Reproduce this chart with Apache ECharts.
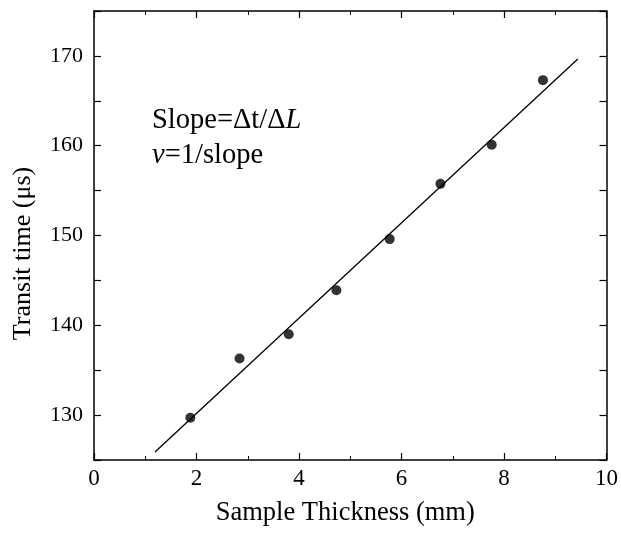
<!DOCTYPE html>
<html>
<head>
<meta charset="utf-8">
<script src="https://cdn.jsdelivr.net/npm/echarts@6/dist/echarts.min.js"></script>
<style>html,body{margin:0;padding:0;background:#fff;}#c{width:621px;height:537px;}</style>
</head>
<body>
<div id="c"></div>
<script>
var thickness = [1.88, 2.84, 3.80, 4.73, 5.77, 6.76, 7.76, 8.76];
var transitTime = [129.7, 136.3, 139.0, 143.9, 149.6, 155.75, 160.1, 167.3];
var fitX = [1.19, 9.44];
var fitY = [125.9, 169.65];
var xTicks = [0, 2, 4, 6, 8, 10];
var yTicks = [130, 140, 150, 160, 170];

var font = '"Liberation Serif","Times New Roman",serif';
var chart = echarts.init(document.getElementById('c'));
function axisCommon(show) {
  return {
    axisLine: {show: true, onZero: false, lineStyle: {color: '#000', width: 1.5}},
    axisTick: {show: true, inside: true, length: 7, lineStyle: {color: '#000', width: 1.2}},
    minorTick: {show: true, splitNumber: 2, length: 4, lineStyle: {color: '#000', width: 1}},
    splitLine: {show: false},
    axisLabel: {show: show, color: '#000', fontFamily: font, fontSize: 22}
  };
}
var scatterData = thickness.map(function (x, i) { return [x, transitTime[i]]; });
var fitData = fitX.map(function (x, i) { return [x, fitY[i]]; });

var option = {
  backgroundColor: '#fff',
  animation: false,
  grid: {left: 94, right: 14, top: 11, bottom: 77},
  xAxis: [
    Object.assign(axisCommon(true), {
      type: 'value', min: 0, max: 10, interval: 2, position: 'bottom',
      name: 'Sample Thickness (mm)', nameLocation: 'middle', nameGap: 40,
      nameTextStyle: {color: '#000', fontFamily: font, fontSize: 26.5, padding: [0, 10, 0, 0]},
      axisLabel: {show: true, color: '#000', fontFamily: font, fontSize: 23, margin: 7,
        formatter: function (v) { return xTicks.indexOf(v) >= 0 ? String(v) : ''; }}
    }),
    Object.assign(axisCommon(false), {type: 'value', min: 0, max: 10, interval: 2, position: 'top'})
  ],
  yAxis: [
    Object.assign(axisCommon(true), {
      type: 'value', min: 125, max: 175, interval: 5, position: 'left',
      name: 'Transit time (\u03bcs)', nameLocation: 'middle', nameGap: 58,
      nameTextStyle: {color: '#000', fontFamily: font, fontSize: 26, padding: [0, 36, 0, 0]},
      minorTick: {show: false},
      axisLabel: {show: true, color: '#000', fontFamily: font, fontSize: 22, margin: 11,
        formatter: function (v) { return yTicks.indexOf(v) >= 0 ? String(v) : ''; }}
    }),
    Object.assign(axisCommon(false), {type: 'value', min: 125, max: 175, interval: 5, position: 'right', minorTick: {show: false}})
  ],
  series: [
    {type: 'line', data: fitData, symbol: 'none', lineStyle: {color: '#000', width: 1.3}, z: 2},
    {type: 'scatter', data: scatterData, symbol: 'circle', symbolSize: 10, itemStyle: {color: '#000'}, z: 3}
  ],
  graphic: [{
    type: 'text', left: 152, top: 103,
    style: {
      text: 'Slope=\u0394t/\u0394{i|L}\n{i|v}=1/slope',
      font: '28.5px ' + font, fill: '#000', lineHeight: 35,
      rich: {i: {fontStyle: 'italic', fontFamily: font, fontSize: 28.5, lineHeight: 35}}
    }
  }]
};
chart.setOption(option);
</script>
</body>
</html>
